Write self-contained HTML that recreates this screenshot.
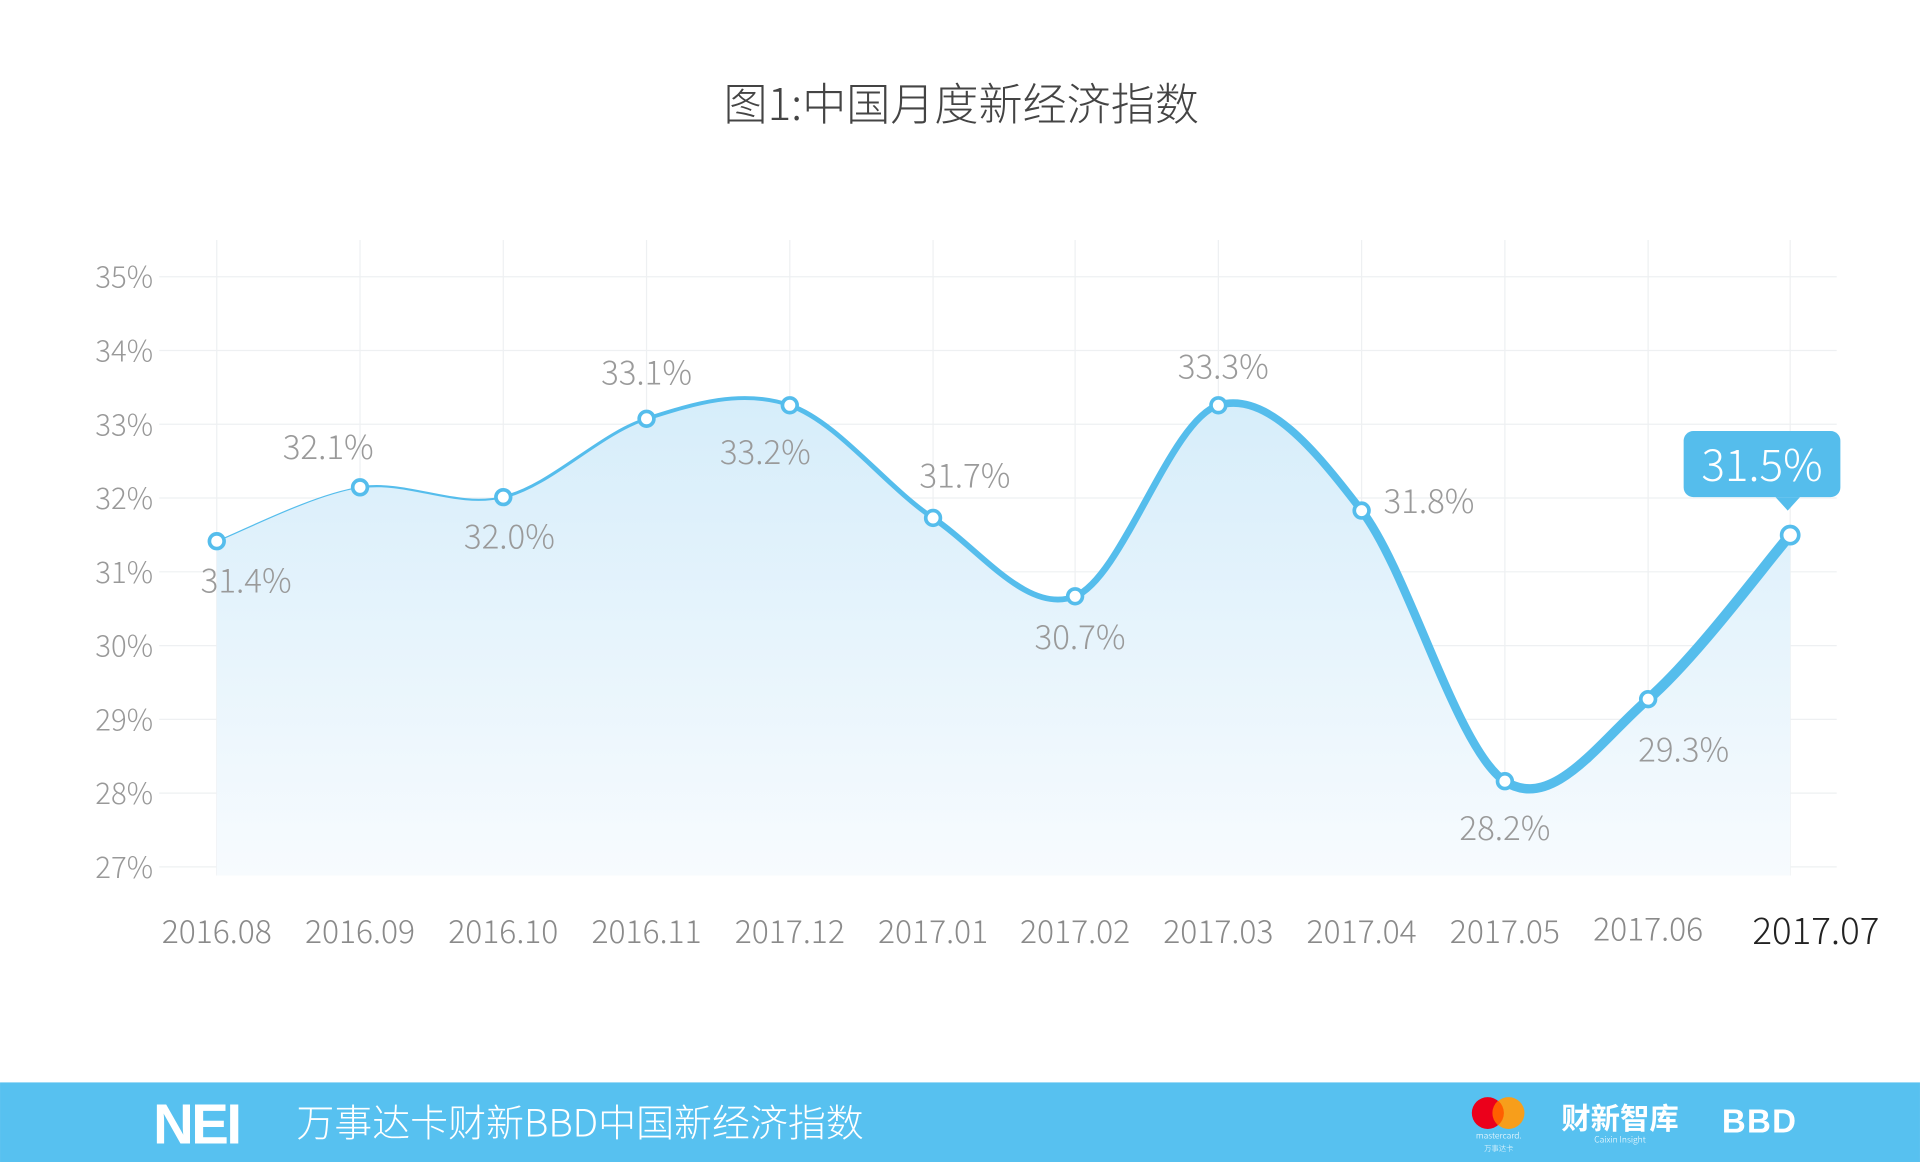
<!DOCTYPE html>
<html><head><meta charset="utf-8"><style>
html,body{margin:0;padding:0;background:#fff;}
svg{display:block;font-family:"Noto Sans CJK SC","Liberation Sans",sans-serif;font-weight:300;}
</style></head><body>
<svg id="s" width="1920" height="1162" viewBox="0 0 1568 949" xmlns="http://www.w3.org/2000/svg">
<defs>
<linearGradient id="g" x1="0" y1="0" x2="0" y2="1">
<stop offset="0" stop-color="#d6edfa"/><stop offset="1" stop-color="#f7fbfe"/>
</linearGradient>
</defs>
<text x="785" y="98" text-anchor="middle" font-size="36" fill="#444">图1:中国月度新经济指数</text>
<g id="grid" stroke="#eef0f2" stroke-width="1"></g>
<g id="ylab" font-size="24" fill="#999" text-anchor="end"></g>
<path id="area" fill="url(#g)"/>
<g id="line" fill="none" stroke="#55bdec" stroke-linecap="round"></g>
<g id="dots" fill="#fff" stroke="#55bdec" stroke-width="3"></g>
<g font-size="27" fill="#9a9a9a" text-anchor="middle">
<text x="201" y="484">31.4%</text>
<text x="268" y="375">32.1%</text>
<text x="416" y="448">32.0%</text>
<text x="528" y="314">33.1%</text>
<text x="625" y="379">33.2%</text>
<text x="788" y="398">31.7%</text>
<text x="882" y="530">30.7%</text>
<text x="999" y="309">33.3%</text>
<text x="1167" y="419">31.8%</text>
<text x="1229" y="686">28.2%</text>
<text x="1375" y="622">29.3%</text>
</g>
<rect x="1375" y="352" width="128" height="54" rx="8" fill="#55bdec"/>
<polygon points="1450,406 1470,406 1460,417" fill="#55bdec"/>
<text x="1439" y="393" font-size="36" fill="#fff" text-anchor="middle">31.5%</text>
<g id="xlab" font-size="26" fill="#8a8a8a" text-anchor="middle"></g>
<rect x="0" y="884" width="1568" height="65" fill="#57c1f0"/>
<text x="125" y="934" font-size="46" font-weight="bold" fill="#fff" letter-spacing="-2" font-family="Liberation Sans">NEI</text>
<text x="242" y="928" font-size="31" fill="#fff">万事达卡财新BBD中国新经济指数</text>
<circle cx="1215" cy="909" r="13" fill="#eb001b"/>
<circle cx="1232" cy="909" r="13" fill="#f79e1b"/>
<path d="M1223.5 899 a13 13 0 0 1 0 20 a13 13 0 0 1 0 -20z" fill="#ff5f00"/>
<text x="1224" y="930" font-size="7" fill="#fff" text-anchor="middle">mastercard.</text>
<text x="1224" y="940" font-size="6" fill="#fff" text-anchor="middle">万事达卡</text>
<text x="1323" y="922" font-size="24" font-weight="bold" fill="#fff" text-anchor="middle">财新智库</text>
<text x="1323" y="933" font-size="7" fill="#fff" text-anchor="middle">Caixin Insight</text>
<text x="1437" y="925" font-size="27" font-weight="bold" fill="#fff" text-anchor="middle" letter-spacing="1" font-family="Liberation Sans">BBD</text>
</svg>
<script>
var NS="http://www.w3.org/2000/svg";
function el(p,t,a,txt){var e=document.createElementNS(NS,t);for(var k in a)e.setAttribute(k,a[k]);if(txt)e.textContent=txt;document.getElementById(p).appendChild(e);return e;}
var xs=[177,294,411,528,645,762,878,995,1112,1229,1346,1462];
var ys=[442,398,406,342,331,423,487,331,417,638,571,437];
var labs=["2016.08","2016.09","2016.10","2016.11","2017.12","2017.01","2017.02","2017.03","2017.04","2017.05","2017.06","2017.07"];
for(var i=0;i<=8;i++){var y=226+i*60.25;el("grid","line",{x1:130,x2:1500,y1:y,y2:y});el("ylab","text",{x:125,y:y+9},(35-i)+"%");}
for(var i=0;i<12;i++){el("grid","line",{x1:xs[i],x2:xs[i],y1:196,y2:715});
var t=el("xlab","text",{x:xs[i],y:i==10?768:770},labs[i]);if(i==11){t.setAttribute("fill","#222");t.setAttribute("font-size","30");t.setAttribute("x",1483);t.setAttribute("y",771);}}
function P(i){i=Math.max(0,Math.min(11,i));return [xs[i],ys[i]];}
var full="M"+xs[0]+" "+ys[0];
for(var i=0;i<11;i++){var p0=P(i-1),p1=P(i),p2=P(i+1),p3=P(i+2);
var c1=[p1[0]+(p2[0]-p0[0])/6,p1[1]+(p2[1]-p0[1])/6],c2=[p2[0]-(p3[0]-p1[0])/6,p2[1]-(p3[1]-p1[1])/6];
var c=" C"+c1.join(" ")+" "+c2.join(" ")+" "+p2.join(" ");full+=c;
el("line","path",{d:"M"+p1.join(" ")+c,"stroke-width":(1+i*0.75).toFixed(2)});}
document.getElementById("area").setAttribute("d",full+" L1462 715 L177 715Z");
for(var i=0;i<12;i++)el("dots","circle",{cx:xs[i],cy:ys[i],r:i==11?7:6});
</script>
</body></html>
